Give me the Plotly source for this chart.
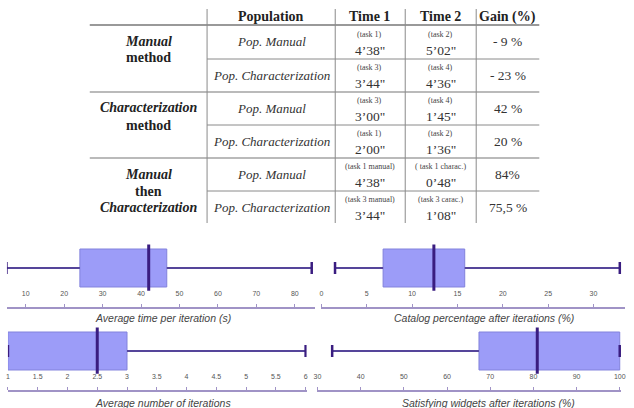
import plotly.graph_objects as go

# ---------------- data ----------------
header = ["Population", "Time 1", "Time 2", "Gain (%)"]
group_lines = [["Manual", "method"], ["Characterization", "method"], ["Manual", "then", "Characterization"]]
populations = ["Pop. Manual", "Pop. Characterization", "Pop. Manual", "Pop. Characterization",
               "Pop. Manual", "Pop. Characterization"]
task1 = ["(task 1)", "(task 3)", "(task 3)", "(task 1)", "(task 1 manual)", "(task 3 manual)"]
time1 = ["4’38\"", "3’44\"", "3’00\"", "2’00\"", "4’38\"", "3’44\""]
task2 = ["(task 2)", "(task 4)", "(task 4)", "(task 2)", "( task 1 charac.)", "(task 3 carac.)"]
time2 = ["5’02\"", "4’36\"", "1’45\"", "1’36\"", "0’48\"", "1’08\""]
gains = ["- 9 %", "- 23 %", "42 %", "20 %", "84%", "75,5 %"]

box_titles = ["Average time per iteration (s)", "Catalog percentage after iterations (%)",
              "Average number of iterations", "Satisfying widgets after iterations (%)"]
box_min = [5.0, 1.5, 1.0, 33.4]
box_q1 = [24.1, 6.8, 1.0, 67.4]
box_med = [42.0, 12.4, 2.5, 80.9]
box_q3 = [46.7, 15.8, 3.0, 100.0]
box_max = [84.4, 32.9, 6.0, 100.0]
box_ticks = [[10, 20, 30, 40, 50, 60, 70, 80],
             [0, 5, 10, 15, 20, 25, 30],
             [1, 1.5, 2, 2.5, 3, 3.5, 4, 4.5, 5, 5.5, 6],
             [30, 40, 50, 60, 70, 80, 90, 100]]

# ---------------- layout helpers ----------------
W, H = 634, 408
def px(x):
    return x / W
def py(y):
    return 1 - y / H

SERIF = "Liberation Serif"
SANS = "Liberation Sans"

fig = go.Figure()
annotations = []
shapes = []

def txt(x, y, s, size=13, color="#222", family=SERIF):
    annotations.append(dict(x=px(x), y=py(y), xref="paper", yref="paper", text=s,
                            showarrow=False, xanchor="center", yanchor="middle",
                            font=dict(family=family, size=size, color=color)))

def hline(x0, x1, y, color="#8a8a8a", w=1):
    shapes.append(dict(type="line", xref="paper", yref="paper", x0=px(x0), x1=px(x1),
                       y0=py(y), y1=py(y), line=dict(color=color, width=w)))

def vline(x, y0, y1, color="#8a8a8a", w=1):
    shapes.append(dict(type="line", xref="paper", yref="paper", x0=px(x), x1=px(x),
                       y0=py(y0), y1=py(y1), line=dict(color=color, width=w)))

# ---------------- table ----------------
col_x = [271, 371, 443, 511]
for cx, h in zip(col_x, header):
    txt(cx, 17, "<b>%s</b>" % h, size=14)

row_c = [42, 75.5, 108.5, 141.5, 174.5, 207.5]
for i, yc in enumerate(row_c):
    txt(col_x[0], yc, "<i>%s</i>" % populations[i], size=13, color="#333")
    txt(col_x[1], yc - 8, task1[i], size=8, color="#444")
    txt(col_x[1], yc + 8, time1[i], size=13.5, color="#333")
    txt(col_x[2], yc - 8, task2[i], size=8, color="#444")
    txt(col_x[2], yc + 8, time2[i], size=13.5, color="#333")
    txt(col_x[3], yc, gains[i], size=13.5, color="#333")

group_y = [[42, 58], [108, 125], [174, 191, 207]]
for lines, ys in zip(group_lines, group_y):
    for s, y in zip(lines, ys):
        if s in ("method", "then"):
            txt(147, y, "<b>%s</b>" % s, size=14)
        else:
            txt(147, y, "<b><i>%s</i></b>" % s, size=14)

hline(87, 543, 25, color="#777", w=1.3)
hline(206, 543, 59)
hline(87, 543, 92, color="#777", w=1.2)
hline(206, 543, 125)
hline(87, 543, 158, color="#777", w=1.2)
hline(206, 543, 191)
for vx in [206, 336, 407, 479]:
    vline(vx, 9, 223)

# ---------------- box plots ----------------
panels = [
    dict(xd=(3, 315), xr=(5.13, 85.13), yd=(243, 292), yr=(-0.632, 0.658), line=308, title_x=161, title_y=318),
    dict(xd=(322, 630), xr=(0, 33.48), yd=(243, 292), yr=(-0.632, 0.658), line=308, title_x=487, title_y=318),
    dict(xd=(4, 307), xr=(1, 6.017), yd=(327, 375), yr=(-0.632, 0.632), line=391, title_x=161, title_y=403),
    dict(xd=(318, 626), xr=(30, 100.32), yd=(327, 375), yr=(-0.632, 0.632), line=391, title_x=491, title_y=403),
]

WHISK = "#55459a"
MED = "#3a1d80"
layout_axes = {}
for k, p in enumerate(panels):
    n = "" if k == 0 else str(k + 1)
    xa, ya = "x" + n, "y" + n
    fig.add_trace(go.Box(
        orientation="h", y=[0], q1=[box_q1[k]], median=[box_med[k]], q3=[box_q3[k]],
        lowerfence=[box_min[k]], upperfence=[box_max[k]], width=1,
        fillcolor="#9c9cf8", line=dict(color="#8282dc", width=1), whiskerwidth=0,
        xaxis=xa, yaxis=ya, hoverinfo="skip", showlegend=False))
    # whiskers
    fig.add_trace(go.Scatter(x=[box_min[k], box_q1[k]], y=[0, 0], mode="lines",
                             line=dict(color=WHISK, width=2), xaxis=xa, yaxis=ya,
                             hoverinfo="skip", showlegend=False))
    fig.add_trace(go.Scatter(x=[box_q3[k], box_max[k]], y=[0, 0], mode="lines",
                             line=dict(color=WHISK, width=2), xaxis=xa, yaxis=ya,
                             hoverinfo="skip", showlegend=False))
    for v in (box_min[k], box_max[k]):
        fig.add_trace(go.Scatter(x=[v, v], y=[-0.16, 0.16], mode="lines",
                                 line=dict(color=MED, width=2.5), xaxis=xa, yaxis=ya,
                                 hoverinfo="skip", showlegend=False))
    # median
    fig.add_trace(go.Scatter(x=[box_med[k], box_med[k]], y=[-0.6, 0.62], mode="lines",
                             line=dict(color=MED, width=3), xaxis=xa, yaxis=ya,
                             hoverinfo="skip", showlegend=False))

    layout_axes["xaxis" + n] = dict(
        domain=[px(p["xd"][0]), px(p["xd"][1])], range=list(p["xr"]),
        anchor="free", position=py(p["line"]), side="top",
        showline=True, linecolor="#a093c6", linewidth=1.5,
        ticks="outside", ticklen=3, tickcolor="#a093c6", tickwidth=1,
        tickvals=box_ticks[k], ticklabelstandoff=5,
        tickfont=dict(family=SANS, size=7, color="#555"),
        showgrid=False, zeroline=False, fixedrange=True)
    layout_axes["yaxis" + n] = dict(
        domain=[py(p["yd"][1]), py(p["yd"][0])], range=list(p["yr"]),
        anchor=xa, visible=False, showgrid=False, zeroline=False, fixedrange=True)
    annotations.append(dict(x=px(p["title_x"]), y=py(p["title_y"]), xref="paper", yref="paper",
                            text="<i>%s</i>" % box_titles[k], showarrow=False,
                            xanchor="center", yanchor="middle",
                            font=dict(family=SANS, size=10.5, color="#444")))

fig.update_layout(
    width=W, height=H, margin=dict(l=0, r=0, t=0, b=0),
    paper_bgcolor="white", plot_bgcolor="white",
    annotations=annotations, shapes=shapes, showlegend=False,
    **layout_axes)

fig.write_html("out.html")
